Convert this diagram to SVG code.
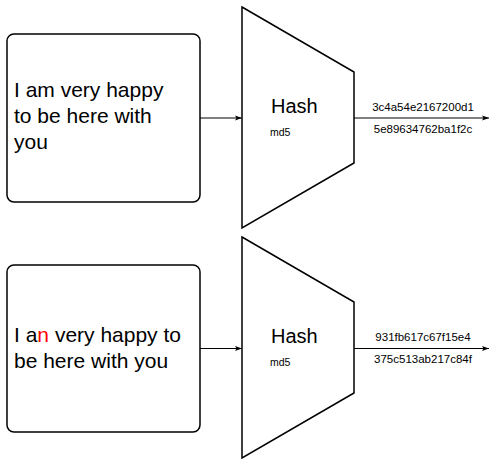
<svg xmlns="http://www.w3.org/2000/svg" width="490" height="459" viewBox="0 0 490 459">
<style>
.box{fill:#fff;stroke:#000;stroke-width:1.5}
.trap{fill:#fff;stroke:#000;stroke-width:1.5}
.edge{fill:none;stroke:#000;stroke-width:1}
.t{font-family:"Liberation Sans",Arial,sans-serif;fill:#000}
.big{font-size:21px}
.hash{font-size:20px}
.small{font-size:10.5px}
.hv{font-size:11.5px;text-anchor:middle}
.red{fill:#ff0000}
</style>
<defs>
<marker id="ah" markerWidth="8" markerHeight="6" refX="7" refY="3" orient="auto" markerUnits="userSpaceOnUse">
<path d="M0,0.5 L7,3 L0,5.5 L1.5,3 Z" fill="#000"/>
</marker>
</defs>
<g id="connectors">
<line class="edge" x1="200" y1="118" x2="242" y2="118" marker-end="url(#ah)"/>
<line class="edge" x1="354" y1="118" x2="489" y2="118" marker-end="url(#ah)"/>
<line class="edge" x1="200" y1="348.5" x2="242" y2="348.5" marker-end="url(#ah)"/>
<line class="edge" x1="354" y1="348.5" x2="489" y2="348.5" marker-end="url(#ah)"/>
</g>
<g id="input1">
<rect class="box" x="7" y="34" width="193" height="168" rx="7"/>
<text class="t big" x="14" y="97">I am very happy</text>
<text class="t big" x="14" y="123">to be here with</text>
<text class="t big" x="14" y="149">you</text>
</g>
<g id="hash1">
<path class="trap" d="M242,7 L354,72 L354,163 L242,228 Z"/>
<text class="t hash" x="271" y="113">Hash</text>
<text class="t small" x="270" y="136">md5</text>
</g>
<g id="output1">
<text class="t hv" x="423" y="111">3c4a54e2167200d1</text>
<text class="t hv" x="423" y="133">5e89634762ba1f2c</text>
</g>
<g id="input2">
<rect class="box" x="7" y="265" width="193" height="167" rx="7"/>
<text class="t big" x="14" y="342">I a<tspan class="red">n</tspan> very happy to</text>
<text class="t big" x="14" y="368">be here with you</text>
</g>
<g id="hash2">
<path class="trap" d="M242,237 L354,302 L354,393 L242,458 Z"/>
<text class="t hash" x="271" y="343">Hash</text>
<text class="t small" x="270" y="366">md5</text>
</g>
<g id="output2">
<text class="t hv" x="423" y="341">931fb617c67f15e4</text>
<text class="t hv" x="423" y="363">375c513ab217c84f</text>
</g>
</svg>
